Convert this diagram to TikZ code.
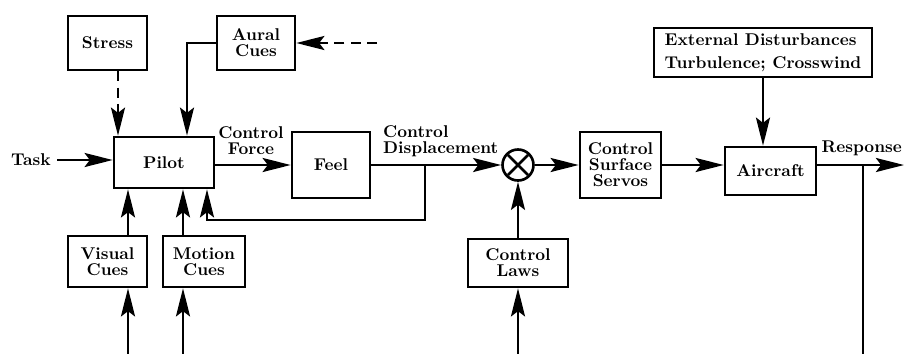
\documentclass[tikz,border=0pt]{standalone}
\usepackage{fontspec}
\usetikzlibrary{positioning, arrows.meta}

\begin{document}
\begin{tikzpicture}[
  x=0.02cm, y=-0.02cm,
  font=\fontsize{9.7}{9.1}\selectfont\bfseries,
  box/.style={draw, line width=1.5pt, align=center, inner sep=1pt},
  arr/.style={-{Stealth[length=16pt, width=8pt, inset=3pt]}, line width=1.3pt},
  darr/.style={arr, dash pattern=on 5.7pt off 3.6pt},
  wire/.style={line width=1.3pt},
  sumnode/.style={draw, circle, line width=1.5pt, minimum size=0.62cm, inner sep=0pt},
]
\clip (0,0) rectangle (904,353);

\node[box, minimum width=1.58cm, minimum height=1.08cm] (stress) at (107.5,43) {Stress};
\node[box, minimum width=1.56cm, minimum height=1.08cm] (aural) at (256,43) {Aural\\Cues};
\node[box, minimum width=2.00cm, minimum height=1.02cm] (pilot) at (164,162.5) {Pilot};
\node[box, minimum width=1.56cm, minimum height=1.32cm] (feel) at (331,165) {Feel};
\node[sumnode] (sum) at (518,165) {};
\node[box, minimum width=1.62cm, minimum height=1.32cm] (servos) at (620.5,165) {Control\\Surface\\Servos};
\node[box, minimum width=1.82cm, minimum height=0.96cm] (aircraft) at (770.5,171) {Aircraft};
\node[box, minimum width=4.36cm, minimum height=0.98cm, align=left] (extdist) at (763,52.5) {External Disturbances\\[4pt]Turbulence; Crosswind};
\node[box, minimum width=2.00cm, minimum height=0.96cm] (laws) at (518,263) {Control\\Laws};
\node[box, minimum width=1.58cm, minimum height=1.02cm] (visual) at (107.5,261.5) {Visual\\Cues};
\node[box, minimum width=1.64cm, minimum height=1.02cm] (motion) at (204,261.5) {Motion\\Cues};

\node (task) at (31,160) {Task};
\node[align=center] (cforce) at (251,141) {Control\\Force};
\node[align=left, anchor=west] (cdisp) at (377,141) {Control\\Displacement};
\node[anchor=east, inner xsep=1pt] (resp) at (904,148) {Response};

\draw[line width=1.5pt, shorten <=1.5pt, shorten >=1.5pt] (sum.north west) -- (sum.south east);
\draw[line width=1.5pt, shorten <=1.5pt, shorten >=1.5pt] (sum.north east) -- (sum.south west);

\coordinate (strx) at (118,0);
\coordinate (aurx) at (187,0);
\coordinate (aurin) at (377,43);
\coordinate (fbtap) at (425,165);
\coordinate (fbcorner) at (207,220);
\coordinate (out) at (904,165);
\coordinate (rtap) at (863,165);
\coordinate (rbot) at (863,360);
\coordinate (visx) at (128,360);
\coordinate (motx) at (183,360);
\coordinate (lawsx) at (518,360);

\draw[arr] (task.east) -- (task.east -| pilot.west);
\draw[darr] (stress.south -| strx) -- (pilot.north -| strx);
\draw[darr] (aurin) -- (aural.east);
\draw[arr] (aural.west) -| (pilot.north -| aurx);
\draw[arr] (pilot.east |- feel.west) -- (feel.west);
\draw[arr] (feel.east) -- (sum.west);
\draw[arr] (fbtap) |- (fbcorner) -- (fbcorner |- pilot.south);
\draw[arr] (sum.east) -- (sum.east -| servos.west);
\draw[arr] (servos.east) -- (servos.east -| aircraft.west);
\draw[arr] (extdist.south) -- (extdist.south |- aircraft.north);
\draw[arr] (aircraft.east |- out) -- (out);
\draw[wire] (rtap) -- (rbot);
\draw[arr] (laws.north) -- (sum.south);
\draw[arr] (lawsx) -- (laws.south);
\draw[arr] (visual.north -| visx) -- (pilot.south -| visx);
\draw[arr] (visx) -- (visual.south -| visx);
\draw[arr] (motion.north -| motx) -- (pilot.south -| motx);
\draw[arr] (motx) -- (motion.south -| motx);
\end{tikzpicture}
\end{document}
